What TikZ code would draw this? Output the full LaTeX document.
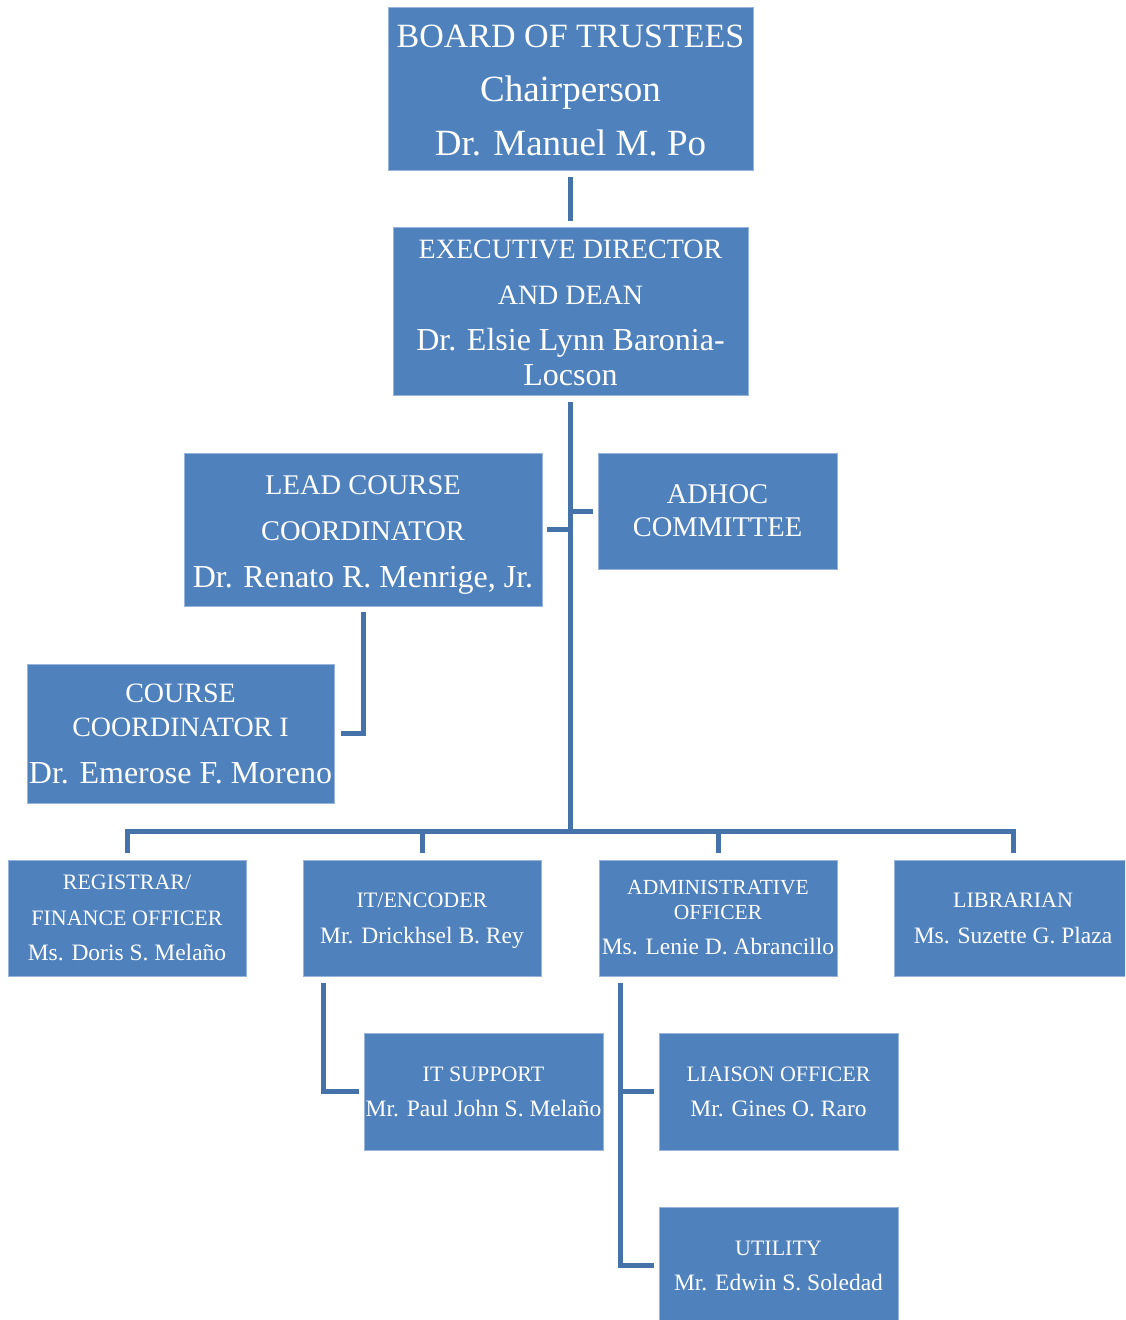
\documentclass[tikz,border=0pt]{standalone}
\usepackage{fontspec}
\setmainfont{Liberation Serif}
\usetikzlibrary{calc}
\definecolor{boxblue}{RGB}{79,129,189}
\definecolor{linkblue}{RGB}{70,114,170}
\definecolor{edgeblue}{RGB}{150,180,220}
\newcommand{\fsz}[2]{\fontsize{#1}{#2}\selectfont}
\begin{document}
\begin{tikzpicture}[x=1pt,y=-1pt,
  box/.style={draw=edgeblue, line width=0.8pt, fill=boxblue, text=white, align=center, inner sep=0pt},
  link/.style={draw=linkblue, line width=5pt, line join=miter}]
\useasboundingbox (0,0) rectangle (1125,1320);
\clip (0,0) rectangle (1125,1320);
% boxes
\node[box, minimum width=365pt, minimum height=163pt, font=\fsz{37}{54}] (bot) at (570.5,88.5)
  {{\fsz{34}{54}\rule{0pt}{27pt}BOARD OF TRUSTEES}\\Chairperson\\Dr. Manuel M. Po};
\node[box, minimum width=355pt, minimum height=168pt, font=\fsz{32}{46}] (edd) at (570.5,311)
  {{\fsz{28}{46}\rule{0pt}{22pt}EXECUTIVE DIRECTOR}\\{\fsz{28}{46}AND DEAN}\\Dr. Elsie Lynn Baronia-\\[-11pt]Locson};
\node[box, minimum width=358pt, minimum height=153pt, font=\fsz{32}{46.5}] (lcc) at (363,529.5)
  {{\fsz{28.5}{46.5}\rule{0pt}{29pt}LEAD COURSE}\\{\fsz{28.5}{46.5}COORDINATOR}\\Dr. Renato R. Menrige, Jr.};
\node[box, minimum width=239pt, minimum height=116pt, font=\fsz{28.5}{33}] (adhoc) at (717.5,511)
  {ADHOC\\COMMITTEE};
\node[box, minimum width=307pt, minimum height=139pt, font=\fsz{32}{34}] (cc1) at (180.5,733.5)
  {{\fsz{28}{34}COURSE}\\{\fsz{28}{34}COORDINATOR I}\\[13pt]Dr. Emerose F. Moreno};
\node[box, minimum width=238pt, minimum height=116pt, font=\fsz{23.5}{35.5}] (reg) at (127,918)
  {{\fsz{22}{35.5}REGISTRAR/}\\{\fsz{22}{35.5}FINANCE OFFICER}\\Ms. Doris S. Melaño};
\node[box, minimum width=238pt, minimum height=116pt, font=\fsz{23.5}{36}] (it) at (422,918)
  {{\fsz{22}{36}\rule{0pt}{20pt}IT/ENCODER}\\Mr. Drickhsel B. Rey};
\node[box, minimum width=238pt, minimum height=116pt, font=\fsz{23.5}{25}] (adm) at (718,918)
  {{\fsz{21.5}{25}ADMINISTRATIVE}\\{\fsz{21.5}{25}OFFICER}\\[10pt]Ms. Lenie D. Abrancillo};
\node[box, minimum width=238pt, minimum height=116pt, font=\fsz{23.5}{36}] (lib) at (1013,918)
  {{\fsz{22}{36}LIBRARIAN}\\Ms. Suzette G. Plaza};
\node[box, minimum width=239pt, minimum height=117pt, font=\fsz{23.5}{35}] (its) at (483.5,1091.5)
  {{\fsz{22}{35}IT SUPPORT}\\Mr. Paul John S. Melaño};
\node[box, minimum width=239pt, minimum height=117pt, font=\fsz{23.5}{35}] (liai) at (778.5,1091.5)
  {{\fsz{22}{35}LIAISON OFFICER}\\Mr. Gines O. Raro};
\node[box, minimum width=239pt, minimum height=117pt, font=\fsz{23.5}{35}] (util) at (778.5,1265.5)
  {{\fsz{22}{35}UTILITY}\\Mr. Edwin S. Soledad};
% connectors
\coordinate (bus) at (570.5,831);
\draw[link] ($(bot.south)+(0,7)$) -- ($(edd.north)+(0,-6)$);
\draw[link] ($(edd.south)+(0,7)$) -- (bus);
\draw[link] ($(reg.north)+(0,-7)$) -- (reg.north |- bus) -- (lib.north |- bus) -- ($(lib.north)+(0,-7)$);
\draw[link] ($(it.north)+(0,-7)$) -- (it.north |- bus);
\draw[link] ($(adm.north)+(0,-7)$) -- (adm.north |- bus);
\draw[link] ($(lcc.east)+(5,0)$) -- (lcc.east -| bus);
\draw[link] (adhoc.west -| bus) -- ($(adhoc.west)+(-5,0)$);
\draw[link] ($(lcc.south)+(0,6)$) |- ($(cc1.east)+(7,0)$);
\coordinate (itdrop) at ($(it.south west)+(21,7)$);
\draw[link] (itdrop) |- ($(its.west)+(-5,0)$);
\coordinate (admdrop) at ($(adm.south west)+(22,7)$);
\draw[link] (admdrop) |- ($(util.west)+(-5,0)$);
\draw[link] (liai.west -| admdrop) -- ($(liai.west)+(-5,0)$);
\end{tikzpicture}
\end{document}
